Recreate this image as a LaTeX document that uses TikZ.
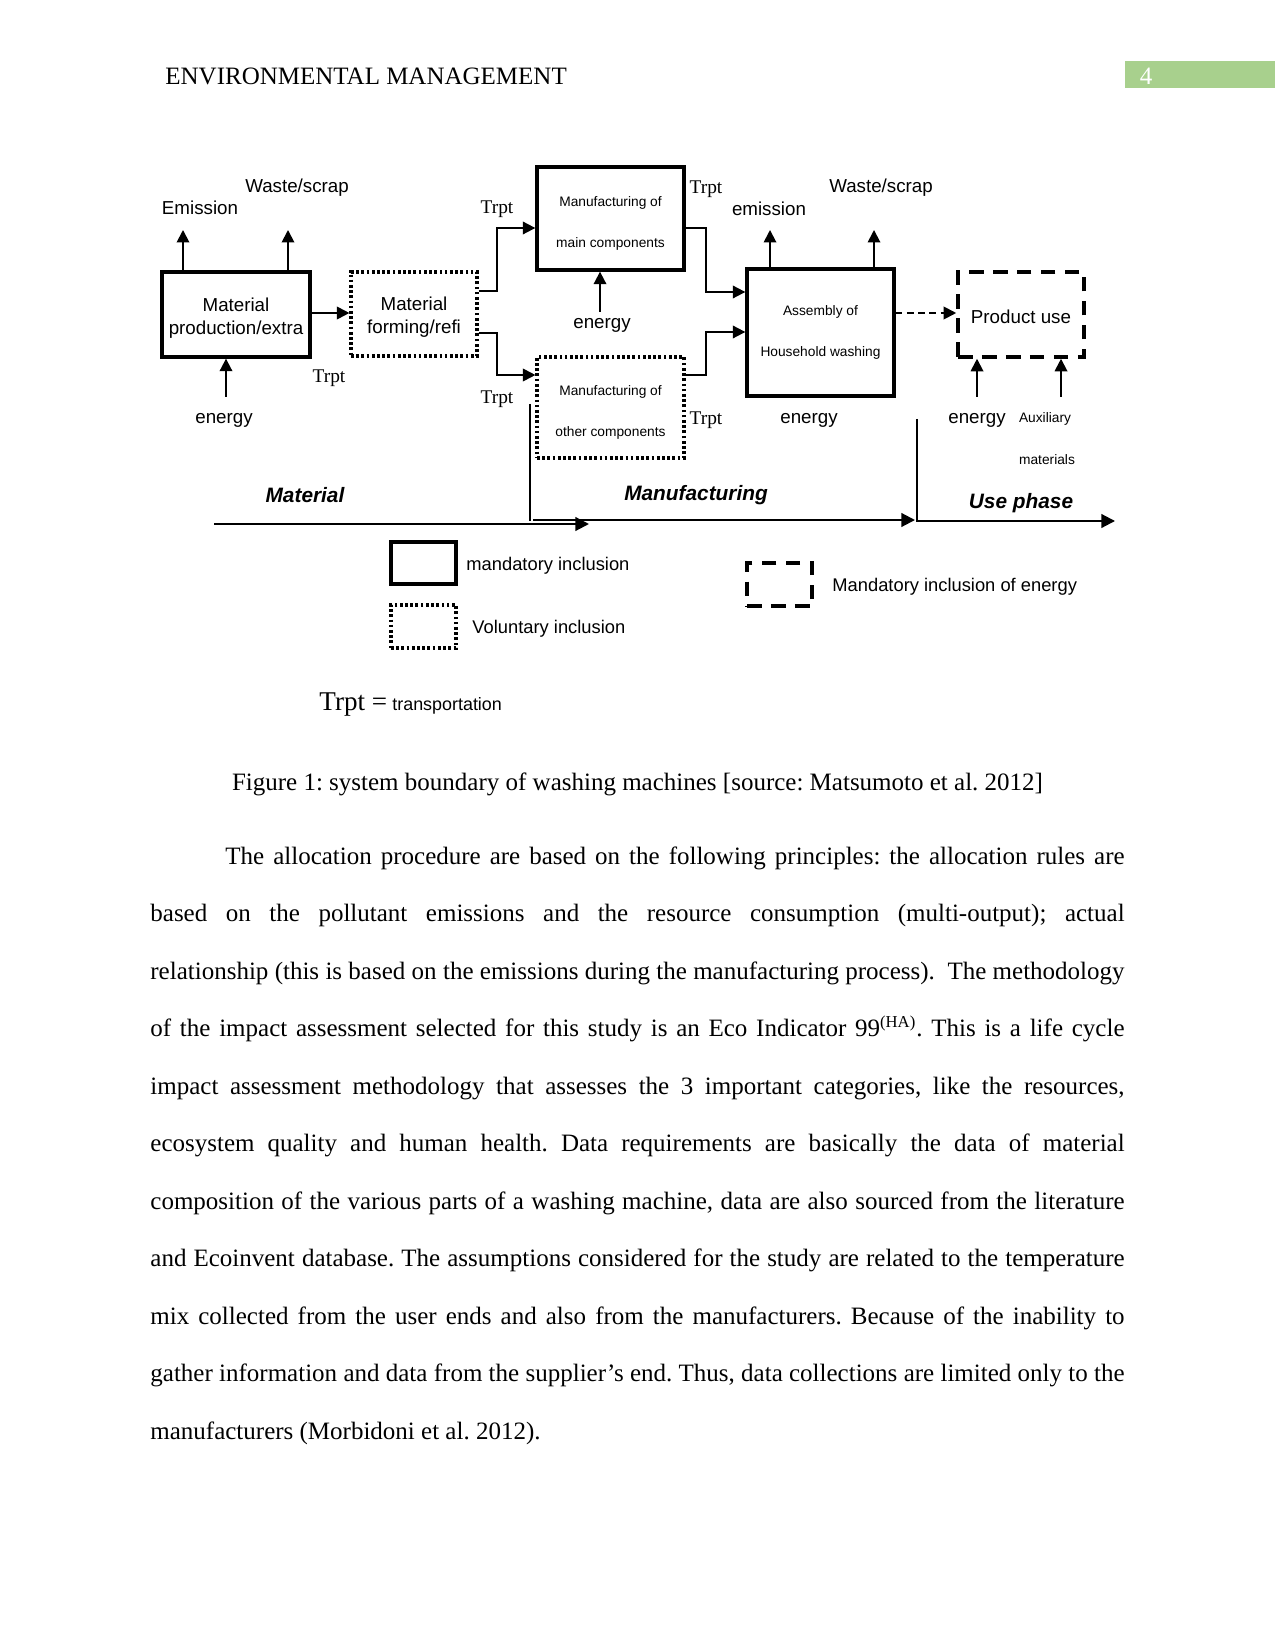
\documentclass[tikz,border=0pt]{standalone}
\usepackage{fontspec}
\setmainfont{Liberation Serif}
\setsansfont{Liberation Sans}
\usetikzlibrary{arrows.meta}
\definecolor{hdrgreen}{RGB}{168,208,141}
\frenchspacing
\begin{document}
\begin{tikzpicture}[x=0.48pt,y=-0.48pt,
  box/.style={draw,line width=1.6pt,inner sep=0pt,align=center},
  dotbox/.style={draw,line width=1.5pt,dash pattern=on 1.3pt off 1.2pt,inner sep=0pt,align=center},
  dashbox/.style={draw,line width=1.7pt,dash pattern=on 7pt off 4.5pt,inner sep=0pt,align=center},
  conn/.style={line width=0.9pt,-{Triangle[length=6pt,width=6pt]}},
  dconn/.style={line width=0.9pt,dash pattern=on 3.2pt off 2.2pt,-{Triangle[length=6pt,width=6pt]}},
  axis/.style={line width=1pt,-{Triangle[length=6.5pt,width=6.5pt]}},
  sl/.style={font=\sffamily\fontsize{9}{11}\selectfont,inner sep=0pt},
  lgl/.style={font=\sffamily\fontsize{8.8}{11}\selectfont,inner sep=0pt,anchor=west},
  ssl/.style={font=\sffamily\fontsize{6.6}{8}\selectfont,inner sep=0pt},
  tl/.style={font=\fontsize{9.3}{11}\selectfont,inner sep=0pt},
  ph/.style={font=\sffamily\bfseries\itshape\fontsize{10}{12}\selectfont,inner sep=0pt},
]
\path[use as bounding box] (0,0) rectangle (1275,1650);

% header
\node[anchor=west,font=\fontsize{12}{14}\selectfont,inner sep=0pt] (hdr) at (165,76) {ENVIRONMENTAL MANAGEMENT};
\node[fill=hdrgreen,anchor=north west,inner sep=0pt,minimum width=150*0.48pt,minimum height=27*0.48pt] (pgbox) at (1125,61) {};
\node[font=\fontsize{12}{14}\selectfont,text=white,inner sep=0pt] (pgnum) at (1146,76) {4};

% process boxes
\node[box,minimum width=148*0.48pt,minimum height=85*0.48pt,font=\sffamily\fontsize{9}{11}\selectfont] (mp) at (236,314.5) {\rule{0pt}{9.6pt}Material\\production/extra};
\node[dotbox,minimum width=126*0.48pt,minimum height=84*0.48pt,font=\sffamily\fontsize{9}{11}\selectfont] (mf) at (414,314) {\rule{0pt}{9.6pt}Material\\forming/refi};
\node[box,minimum width=147*0.48pt,minimum height=103*0.48pt,font=\sffamily\fontsize{6.6}{19.7}\selectfont] (mc) at (610.5,218.5) {\rule{0pt}{9.6pt}Manufacturing of\\main components};
\node[dotbox,minimum width=147*0.48pt,minimum height=101*0.48pt,font=\sffamily\fontsize{6.6}{19.7}\selectfont] (oc) at (610.5,407.5) {\rule{0pt}{9.6pt}Manufacturing of\\other components};
\node[box,minimum width=147*0.48pt,minimum height=127*0.48pt,font=\sffamily\fontsize{6.6}{19.7}\selectfont] (asm) at (820.5,332.5) {Assembly of\\Household washing};
\node[dashbox,minimum width=126*0.48pt,minimum height=85*0.48pt,font=\sffamily\fontsize{9}{11}\selectfont] (pu) at (1021,314.5) {\rule{0pt}{8.6pt}Product use};

% labels
\node[sl] (l1) at (200,208) {Emission};
\node[sl] (l2) at (297,188) {Waste/scrap};
\node[sl] (l3) at (224,420) {energy};
\node[tl] (t1) at (329,378) {Trpt};
\node[tl] (t2) at (497,209) {Trpt};
\node[tl] (t3) at (497,399) {Trpt};
\node[tl] (t4) at (706,189) {Trpt};
\node[tl] (t5) at (706,420) {Trpt};
\node[sl] (l4) at (602,325) {energy};
\node[sl] (l5) at (769,209) {emission};
\node[sl] (l6) at (881,188) {Waste/scrap};
\node[sl] (l7) at (809,420) {energy};
\node[sl] (l8) at (977,420) {energy};
\node[ssl] (l9) at (1045,419) {Auxiliary};
\node[ssl] (l10) at (1047,460) {materials};
\node[ph] (p1) at (305,495) {Material};
\node[ph] (p2) at (696,495) {Manufacturing};
\node[ph] (p3) at (1021,503) {Use phase};

% arrow end coordinates
\coordinate (e1) at (183,230);
\coordinate (e2) at (288,230);
\coordinate (e3) at (226,397);
\coordinate (e4) at (600,312);
\coordinate (e5) at (770,230);
\coordinate (e6) at (874,230);
\coordinate (e7) at (977,397);
\coordinate (e8) at (1061,397);

\draw[conn] (mp.north -| e1) -- (e1);
\draw[conn] (mp.north -| e2) -- (e2);
\draw[conn] (e3) -- (mp.south -| e3);
\draw[conn] (e4) -- (mc.south -| e4);
\draw[conn] (asm.north -| e5) -- (e5);
\draw[conn] (asm.north -| e6) -- (e6);
\draw[conn] (e7) -- (pu.south -| e7);
\draw[conn] (e8) -- (pu.south -| e8);

% flow connectors
\draw[conn] (mp.east |- 0,313) -- (mf.west |- 0,313);
\draw[conn] (mf.east |- 0,291) -- (497,291) -- (497,228) -- (mc.west |- 0,228);
\draw[conn] (mf.east |- 0,333) -- (497,333) -- (497,375) -- (oc.west |- 0,375);
\draw[conn] (mc.east |- 0,228) -- (706,228) -- (706,292) -- (asm.west |- 0,292);
\draw[conn] (oc.east |- 0,375) -- (706,375) -- (706,332) -- (asm.west |- 0,332);
\draw[dconn] (asm.east |- 0,313) -- (pu.west |- 0,313);

% timeline
\coordinate (a0) at (214,524);
\coordinate (a1) at (589,524);
\coordinate (b0) at (533,520);
\coordinate (b1) at (915,520);
\coordinate (c0) at (917,521);
\coordinate (c1) at (1115,521);
\coordinate (v1a) at (530,404);
\coordinate (v1b) at (530,521);
\coordinate (v2a) at (917,419);
\coordinate (v2b) at (917,522);
\draw[axis] (a0) -- (a1);
\draw[line width=1pt] (v1a) -- (v1b);
\draw[axis] (b0) -- (b1);
\draw[line width=1pt] (v2a) -- (v2b);
\draw[axis] (c0) -- (c1);

% legend
\node[box,minimum width=65*0.48pt,minimum height=42*0.48pt] (lg1) at (423.5,563) {};
\node[lgl] (lg1t) at (466,566) {mandatory inclusion};
\node[dotbox,minimum width=65*0.48pt,minimum height=43*0.48pt] (lg2) at (423.5,626.5) {};
\node[lgl] (lg2t) at (472,629) {Voluntary inclusion};
\node[dashbox,minimum width=65*0.48pt,minimum height=43*0.48pt] (lg3) at (779.5,584.5) {};
\node[lgl] (lg3t) at (832,587) {Mandatory inclusion of energy};
\node[anchor=west,inner sep=0pt] (trpt) at (319,705) {{\fontsize{13}{15}\selectfont Trpt =} {\sffamily\fontsize{8.6}{10}\selectfont transportation}};

% caption
\node[font=\fontsize{12}{14}\selectfont,inner sep=0pt] (cap) at (637.5,784) {Figure 1: system boundary of washing machines [source: Matsumoto et al. 2012]};

% body text
\node[anchor=base west,text width=467.6pt,inner sep=0pt,align=justify,font=\fontsize{12}{27.6}\selectfont] (body) at (150,864) {\hspace*{36pt}The allocation procedure are based on the following principles: the allocation rules are\linebreak
based on the pollutant emissions and the resource consumption (multi-output); actual\linebreak
relationship (this is based on the emissions during the manufacturing process).~ The methodology\linebreak
of the impact assessment selected for this study is an Eco Indicator 99\textsuperscript{(HA)}. This is a life cycle\linebreak
impact assessment methodology that assesses the 3 important categories, like the resources,\linebreak
ecosystem quality and human health. Data requirements are basically the data of material\linebreak
composition of the various parts of a washing machine, data are also sourced from the literature\linebreak
and Ecoinvent database. The assumptions considered for the study are related to the temperature\linebreak
mix collected from the user ends and also from the manufacturers. Because of the inability to\linebreak
gather information and data from the supplier’s end. Thus, data collections are limited only to the\linebreak
manufacturers (Morbidoni et al. 2012).};
\end{tikzpicture}
\end{document}
